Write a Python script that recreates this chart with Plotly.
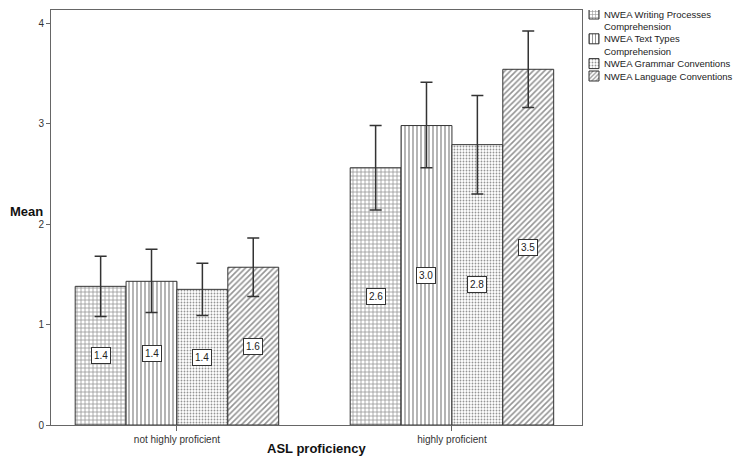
import plotly.graph_objects as go

categories = ["not highly proficient", "highly proficient"]
series_names = [
    ["NWEA Writing Processes", "Comprehension"],
    ["NWEA Text Types", "Comprehension"],
    ["NWEA Grammar Conventions"],
    ["NWEA Language Conventions"],
]
means = [
    [1.38, 2.56],
    [1.43, 2.98],
    [1.35, 2.79],
    [1.57, 3.54],
]
err_upper = [
    [1.68, 2.98],
    [1.75, 3.41],
    [1.61, 3.28],
    [1.86, 3.92],
]
err_lower = [
    [1.08, 2.14],
    [1.12, 2.56],
    [1.09, 2.30],
    [1.28, 3.16],
]
label_text = [
    ["1.4", "2.6"],
    ["1.4", "3.0"],
    ["1.4", "2.8"],
    ["1.6", "3.5"],
]
patterns = ["+", "|", ".", "/"]
pattern_sizes = [4, 4, 3, 4]
pattern_solidity = [0.35, 0.35, 0.3, 0.4]
yticks = [0, 1, 2, 3, 4]

FONT = "Arial, Liberation Sans, sans-serif"
DARK = "#333333"
PAT = "#2a2a2a"

# page layout (browser body adds 8px offset)
W, H = 734, 459
ML, MT, MB = 43, 2, 42
plot_w = W - ML               # paper width, right margin 0
main_w = 531                  # main plot width in px
main_frac = main_w / plot_w
leg_w = plot_w - main_w
plot_h = H - MT - MB

gx = list(range(len(categories)))
bargap = 0.26
nser = len(series_names)
bw = (1 - bargap) / nser

fig = go.Figure()
for i in range(nser):
    fig.add_trace(go.Bar(
        x=gx, y=means[i], name=" ".join(series_names[i]), showlegend=False,
        marker=dict(
            color="white",
            line=dict(color=DARK, width=1),
            pattern=dict(shape=patterns[i], fgcolor=PAT, bgcolor="white",
                         size=pattern_sizes[i], solidity=pattern_solidity[i]),
        ),
        error_y=dict(
            type="data", symmetric=False,
            array=[u - m for u, m in zip(err_upper[i], means[i])],
            arrayminus=[m - l for l, m in zip(err_lower[i], means[i])],
            color=DARK, thickness=1.5, width=6,
        ),
        xaxis="x", yaxis="y",
    ))
    for j in gx:
        fig.add_annotation(
            x=j + (i - (nser - 1) / 2) * bw, y=means[i][j] / 2,
            xref="x", yref="y",
            text=label_text[i][j], showarrow=False,
            font=dict(family=FONT, size=10, color="#222222"),
            bgcolor="white", bordercolor=DARK, borderwidth=1, borderpad=2,
        )

# custom legend (pixel units in a side axis)
line_h = 12.4
first_center = 4.0
sw_size = 10
sw_x0 = 7
text_x = 20
row = 0
for i in range(nser):
    cy = first_center + row * line_h
    fig.add_trace(go.Bar(
        y=[cy], x=[sw_size], base=[sw_x0], orientation="h",
        width=sw_size, offset=-sw_size / 2, showlegend=False, hoverinfo="skip",
        marker=dict(
            color="white", line=dict(color=DARK, width=1),
            pattern=dict(shape=patterns[i], fgcolor=PAT, bgcolor="white",
                         size=3, solidity=pattern_solidity[i]),
        ),
        xaxis="x2", yaxis="y2",
    ))
    for k, ln in enumerate(series_names[i]):
        fig.add_annotation(
            x=text_x, y=cy + k * line_h, xref="x2", yref="y2",
            xanchor="left", yanchor="middle", text=ln, showarrow=False,
            font=dict(family=FONT, size=9.5, color="#222222"),
        )
    row += len(series_names[i])

fig.add_annotation(x=0, xref="paper", xanchor="left", xshift=-43, y=2, yref="y",
                   yshift=13, text="<b>Mean</b>", showarrow=False,
                   font=dict(family=FONT, size=13, color="#111111"))
fig.add_annotation(x=0.5, xref="x domain", y=0, yref="y domain", yshift=-33,
                   text="<b>ASL proficiency</b>", showarrow=False,
                   font=dict(family=FONT, size=13, color="#111111"))

fig.update_layout(
    width=W, height=H,
    margin=dict(l=ML, r=0, t=MT, b=MB, pad=0, autoexpand=False),
    barmode="group", bargap=bargap, bargroupgap=0,
    plot_bgcolor="white", paper_bgcolor="white",
    showlegend=False,
    xaxis=dict(
        domain=[0, main_frac],
        tickmode="array", tickvals=gx, ticktext=categories,
        range=[-0.458, 1.473],
        showline=True, linecolor="#666666", linewidth=1, mirror=True,
        ticks="outside", ticklen=5, tickcolor="#666666",
        showgrid=False, zeroline=False,
        tickfont=dict(family=FONT, size=10, color=DARK),
    ),
    yaxis=dict(
        tickmode="array", tickvals=yticks,
        range=[0, 4.13],
        showline=True, linecolor="#666666", linewidth=1, mirror=True,
        ticks="outside", ticklen=4, tickcolor="#666666",
        showgrid=False, zeroline=False,
        tickfont=dict(family=FONT, size=10, color=DARK),
    ),
    xaxis2=dict(domain=[main_frac, 1], range=[0, leg_w], visible=False,
                fixedrange=True),
    yaxis2=dict(domain=[0, 1], range=[plot_h, 0], visible=False,
                fixedrange=True, anchor="x2"),
)

fig.write_html("out.html")
